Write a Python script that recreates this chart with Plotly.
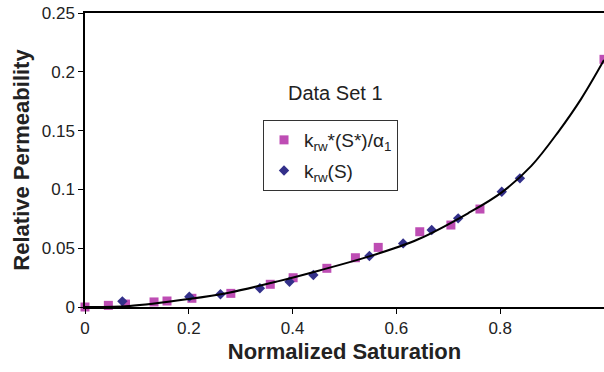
import plotly.graph_objects as go

# Data
sq_x = [0.0, 0.045, 0.078, 0.133, 0.158, 0.206, 0.281, 0.357, 0.401, 0.466, 0.521, 0.565, 0.645, 0.705, 0.761, 1.0]
sq_y = [0.0, 0.0014, 0.0025, 0.0043, 0.0051, 0.0074, 0.0116, 0.0193, 0.0249, 0.0329, 0.0419, 0.0507, 0.064, 0.0697, 0.0833, 0.2106]

dm_x = [0.072, 0.201, 0.261, 0.337, 0.394, 0.440, 0.548, 0.613, 0.668, 0.719, 0.803, 0.838]
dm_y = [0.0048, 0.0088, 0.0108, 0.0159, 0.0215, 0.0272, 0.0434, 0.0541, 0.0655, 0.0754, 0.098, 0.1094]

fit_x = [0.0, 0.085, 0.2, 0.277, 0.373, 0.45, 0.546, 0.642, 0.738, 0.803, 0.86, 0.912, 0.956, 1.0]
fit_y = [0.0, 0.0008, 0.0068, 0.0122, 0.022, 0.0309, 0.0428, 0.0576, 0.0797, 0.0975, 0.120, 0.149, 0.177, 0.21]

y_ticks = [0, 0.05, 0.1, 0.15, 0.2, 0.25]
x_ticks = [0, 0.2, 0.4, 0.6, 0.8, 1.0]

FONT = "Liberation Sans, Arial, sans-serif"

fig = go.Figure()
fig.add_trace(go.Scatter(
    x=sq_x, y=sq_y, mode="markers", name="k<sub>rw</sub>*(S*)/α<sub>1</sub>",
    marker=dict(symbol="square", size=9, color="#BE4DB4"), legendgroup="a",
    cliponaxis=False))
fig.add_trace(go.Scatter(
    x=dm_x, y=dm_y, mode="markers", name="k<sub>rw</sub>(S)",
    marker=dict(symbol="diamond", size=8, color="#33308A"), legendgroup="b"))
fig.add_trace(go.Scatter(
    x=fit_x, y=fit_y, mode="lines", line=dict(color="black", width=2, shape="spline"),
    showlegend=False, hoverinfo="skip"))

fig.update_layout(
    width=604, height=372,
    margin=dict(l=85, r=0, t=13, b=65),
    paper_bgcolor="white", plot_bgcolor="white",
    font=dict(family=FONT, color="#222", size=17),
    showlegend=True,
    legend=dict(
        x=0.343, y=0.636, xanchor="left", yanchor="top",
        bgcolor="white", bordercolor="#333", borderwidth=1,
        font=dict(size=19, family=FONT, color="#222"),
        itemwidth=30, tracegroupgap=3,
    ),
    xaxis=dict(
        range=[0, 1.0], tickvals=x_ticks, ticktext=["0", "0.2", "0.4", "0.6", "0.8", "1"],
        showgrid=False, zeroline=False, showline=True, linecolor="black", linewidth=1.5,
        mirror=True, ticks="outside", ticklen=5, tickcolor="black",
        tickfont=dict(size=17), automargin=False,
        title=dict(text="<b>Normalized Saturation</b>", font=dict(size=22), standoff=6),
    ),
    yaxis=dict(
        range=[0, 0.25], tickvals=y_ticks, ticktext=["0", "0.05", "0.1", "0.15", "0.2", "0.25"],
        showgrid=False, zeroline=False, showline=True, linecolor="black", linewidth=1.5,
        ticks="outside", ticklen=5, tickcolor="black",
        tickfont=dict(size=17), automargin=False,
        title=dict(text="<b>Relative Permeability</b>", font=dict(size=22), standoff=6),
    ),
    annotations=[dict(
        text="Data Set 1", xref="paper", yref="paper", x=0.482, y=0.728,
        showarrow=False, font=dict(size=20, family=FONT, color="#222"),
        xanchor="center", yanchor="middle")],
)

fig.write_html("out.html", config={"displayModeBar": False},
               post_script="document.body.style.margin='0';")
